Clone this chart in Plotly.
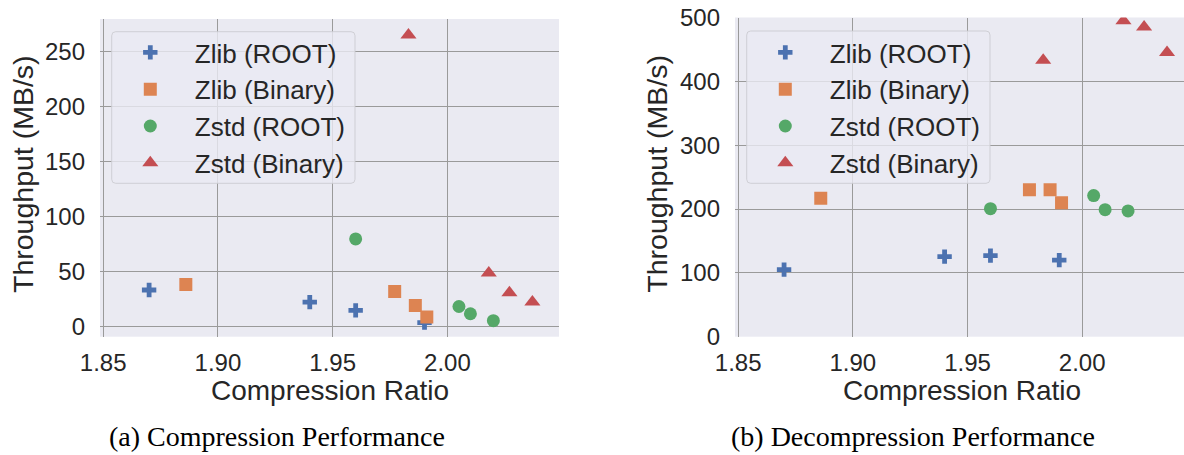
import plotly.graph_objects as go

W, H = 1184, 455

# Series definitions
series_names = ["Zlib (ROOT)", "Zlib (Binary)", "Zstd (ROOT)", "Zstd (Binary)"]
series_colors = ["#4C72B0", "#DD8452", "#55A868", "#C44E52"]
series_symbols = ["cross", "square", "circle", "triangle-up"]

# Compression ratio per configuration
zlib_root_ratio = [1.870, 1.940, 1.960, 1.990]
zlib_binary_ratio = [1.886, 1.977, 1.986, 1.991]
zstd_root_ratio = [1.960, 2.005, 2.010, 2.020]
zstd_binary_ratio = [1.983, 2.018, 2.027, 2.037]

# Compression throughput (MB/s)
zlib_root_comp = [33, 22, 14.5, 3.3]
zlib_binary_comp = [38, 31.6, 19, 8.4]
zstd_root_comp = [79.5, 18, 11.4, 5.1]
zstd_binary_comp = [265, 48.5, 30.4, 22]

# Decompression throughput (MB/s)
zlib_root_decomp = [105, 125.5, 127, 120]
zlib_binary_decomp = [217, 230, 230, 210]
zstd_root_decomp = [200.5, 221, 199, 197]
zstd_binary_decomp = [433, 495, 485, 445]

x_tick_vals = [1.85, 1.90, 1.95, 2.00]
x_tick_text = ["1.85", "1.90", "1.95", "2.00"]
comp_tick_vals = [0, 50, 100, 150, 200, 250]
decomp_tick_vals = [0, 100, 200, 300, 400, 500]

captions = ["(a) Compression Performance", "(b) Decompression Performance"]
x_title = "Compression Ratio"
y_title = "Throughput (MB/s)"

ratios = [zlib_root_ratio, zlib_binary_ratio, zstd_root_ratio, zstd_binary_ratio]
comp = [zlib_root_comp, zlib_binary_comp, zstd_root_comp, zstd_binary_comp]
decomp = [zlib_root_decomp, zlib_binary_decomp, zstd_root_decomp, zstd_binary_decomp]
marker_sizes = [12, 13, 13, 14]

SANS = "Liberation Sans, Arial, sans-serif"
SERIF = "Liberation Serif, Times New Roman, serif"
BG = "#EAEAF2"
GRID = "#9a9a9a"
TEXT = "#262626"


def px_x(p):
    return p / W


def px_y(p):
    return 1 - p / H


fig = go.Figure()

for panel, values in enumerate([comp, decomp]):
    suffix = "" if panel == 0 else "2"
    for i, name in enumerate(series_names):
        fig.add_trace(go.Scatter(
            x=ratios[i], y=values[i], mode="markers", name=name,
            xaxis="x" + suffix, yaxis="y" + suffix,
            legend="legend" + suffix,
            marker=dict(symbol=series_symbols[i], color=series_colors[i],
                        size=marker_sizes[i], line=dict(width=0)),
            cliponaxis=True,
        ))

# Panel geometry in pixels
left_dom = (100, 559)
right_dom = (735, 1184)
top_px, bot_px = 19, 336.7

axis_common = dict(
    showgrid=True, gridcolor=GRID, gridwidth=1, zeroline=False, automargin=False,
    showline=False, ticks="", tickfont=dict(family=SANS, size=24, color=TEXT),
)

fig.update_layout(
    template="none",
    width=W, height=H, margin=dict(l=0, r=0, t=0, b=0, autoexpand=False),
    paper_bgcolor="white", plot_bgcolor=BG, showlegend=True,
    xaxis=dict(domain=[px_x(left_dom[0]), px_x(left_dom[1])], range=[1.8486, 2.0486],
               tickvals=x_tick_vals, ticktext=x_tick_text, anchor="y",
               ticklabelstandoff=9, **axis_common),
    yaxis=dict(domain=[px_y(bot_px), px_y(top_px)], range=[-9.47, 279.5],
               tickvals=comp_tick_vals, anchor="x", ticklabelstandoff=14, **axis_common),
    xaxis2=dict(domain=[px_x(right_dom[0]), 1.0], range=[1.8486, 2.0444],
                tickvals=x_tick_vals, ticktext=x_tick_text, anchor="y2",
                ticklabelstandoff=9, **axis_common),
    yaxis2=dict(domain=[px_y(bot_px), px_y(17.5)], range=[0, 500],
                tickvals=decomp_tick_vals, anchor="x2", ticklabelstandoff=14, **axis_common),
)

legend_common = dict(
    bgcolor="rgba(0,0,0,0)", borderwidth=0, xanchor="left", yanchor="top",
    font=dict(family=SANS, size=26, color=TEXT), itemwidth=79,
    tracegroupgap=0,
)
fig.update_layout(
    legend=dict(x=px_x(105.8), y=px_y(29), **legend_common),
    legend2=dict(x=px_x(740.8), y=px_y(29), **legend_common),
)


def rounded_rect(x0, y0, x1, y1, r):
    pts = [
        f"M {px_x(x0 + r)},{px_y(y0)}",
        f"L {px_x(x1 - r)},{px_y(y0)}",
        f"Q {px_x(x1)},{px_y(y0)} {px_x(x1)},{px_y(y0 + r)}",
        f"L {px_x(x1)},{px_y(y1 - r)}",
        f"Q {px_x(x1)},{px_y(y1)} {px_x(x1 - r)},{px_y(y1)}",
        f"L {px_x(x0 + r)},{px_y(y1)}",
        f"Q {px_x(x0)},{px_y(y1)} {px_x(x0)},{px_y(y1 - r)}",
        f"L {px_x(x0)},{px_y(y0 + r)}",
        f"Q {px_x(x0)},{px_y(y0)} {px_x(x0 + r)},{px_y(y0)}",
        "Z",
    ]
    return " ".join(pts)


for box in [(111.7, 31.7, 355, 183.3), (746.7, 31.0, 990, 183.3)]:
    fig.add_shape(type="path", path=rounded_rect(*box, 4), xref="paper", yref="paper",
                  fillcolor="rgba(234,234,242,0.8)", line=dict(color="rgba(204,204,210,0.9)", width=1),
                  layer="above")

annotations = []
for cx in [(left_dom[0] + left_dom[1]) / 2, 962]:
    annotations.append(dict(text=x_title, x=px_x(cx), y=px_y(390), xref="paper", yref="paper",
                            showarrow=False, xanchor="center", yanchor="middle",
                            font=dict(family=SANS, size=28, color=TEXT)))
for cx in [23, 656.7]:
    annotations.append(dict(text=y_title, x=px_x(cx), y=px_y(174), xref="paper", yref="paper",
                            showarrow=False, xanchor="center", yanchor="middle", textangle=-90,
                            font=dict(family=SANS, size=28.5, color=TEXT)))
for cx, cap in zip([276.7, 913], captions):
    annotations.append(dict(text=cap, x=px_x(cx), y=px_y(436), xref="paper", yref="paper",
                            showarrow=False, xanchor="center", yanchor="middle",
                            font=dict(family=SERIF, size=28, color="black")))
fig.update_layout(annotations=annotations)

fig.write_html("out.html")
